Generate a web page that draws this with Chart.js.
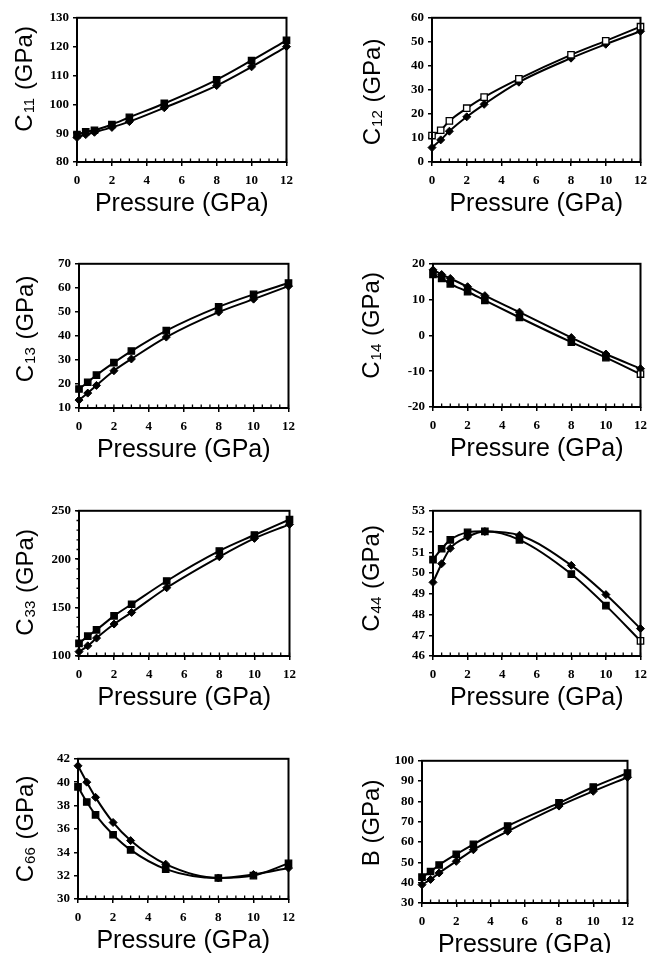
<!DOCTYPE html>
<html>
<head>
<meta charset="utf-8">
<script src="https://cdn.jsdelivr.net/npm/chart.js@4/dist/chart.umd.min.js"></script>
<style>
  html, body { margin: 0; padding: 0; background: #fff; overflow: hidden; }
  body { width: 654px; height: 953px; position: relative; }
  .panel { position: absolute; }
</style>
</head>
<body>
<script>
// pressure points (GPa), shared by every panel
var pressure = [0, 0.5, 1, 2, 3, 5, 8, 10, 12];

// squares / diamonds for each constant
var c11Sq = [89.5, 90.5, 91, 93, 95.5, 100.3, 108.5, 115.2, 122.2];
var c11Di = [88.5, 89.5, 90.3, 92, 94, 98.8, 106.5, 113, 120];

var c12Sq = [11, 13.2, 17.1, 22.4, 27, 34.6, 44.6, 50.4, 56.3];
var c12Di = [6, 9.2, 12.8, 18.8, 24, 33.2, 43.2, 49, 54.4];

var c13Sq = [17.9, 20.7, 23.7, 28.9, 33.7, 42.2, 52.1, 57.3, 62];
var c13Di = [13.3, 16.2, 19.4, 25.5, 30.4, 39.5, 49.9, 55.3, 60.7];

var c14Sq = [17, 15.9, 14.4, 12.2, 9.8, 5, -1.9, -6.2, -10.8];
var c14Di = [18.3, 17, 15.9, 13.6, 11.1, 6.5, -0.6, -5.2, -9.3];

var c33Sq = [113, 120.5, 127, 141.5, 153.5, 177.5, 208.5, 225, 241];
var c33Di = [104.5, 110.5, 118.5, 133, 145, 170.5, 202.5, 221.5, 236];

var c44Sq = [50.65, 51.17, 51.6, 51.96, 52.01, 51.6, 49.95, 48.43, 46.73];
var c44Di = [49.55, 50.45, 51.19, 51.74, 52.0, 51.82, 50.37, 48.96, 47.32];

var c66Sq = [39.6, 38.3, 37.2, 35.5, 34.2, 32.56, 31.8, 32.0, 33.05];
var c66Di = [41.4, 40.0, 38.7, 36.55, 35.0, 32.98, 31.8, 32.1, 32.65];

var bSq = [42.7, 45.5, 48.7, 54, 58.9, 67.9, 79.3, 87.1, 94];
var bDi = [39, 41.6, 44.8, 50.5, 56.2, 65.3, 77.7, 85, 91.9];

// y ranges [min, max, step]
var c11Range = [80, 130, 10];
var c12Range = [0, 60, 10];
var c13Range = [10, 70, 10];
var c14Range = [-20, 20, 10];
var c33Range = [100, 250, 50];
var c44Range = [46, 53, 1];
var c66Range = [30, 42, 2];
var bRange = [30, 100, 10];
var xRange = [0, 12, 2];

// y titles: [main letter, subscript]
var titles = [['C', '11'], ['C', '12'], ['C', '13'], ['C', '14'],
              ['C', '33'], ['C', '44'], ['C', '66'], ['B', '']];

// panel layout: plot area [left, top, right, bottom], y-title offsets
var panels = [
  {sq: c11Sq, di: c11Di, range: c11Range, t: 0, area: [77, 16, 293, 162], tx: 52, ty: -11},
  {sq: c12Sq, di: c12Di, range: c12Range, t: 1, area: [432, 16, 647, 162], tx: 59, ty: 2, openSq: true},
  {sq: c13Sq, di: c13Di, range: c13Range, t: 2, area: [79, 262, 295, 408], tx: 53, ty: -7},
  {sq: c14Sq, di: c14Di, range: c14Range, t: 3, area: [433, 262, 647, 407], tx: 61, ty: -10, openLast: true},
  {sq: c33Sq, di: c33Di, range: c33Range, t: 4, area: [79, 509, 296, 656], tx: 53, ty: -1, minorY: 10},
  {sq: c44Sq, di: c44Di, range: c44Range, t: 5, area: [433, 509, 647, 656], tx: 61, ty: -5, openLast: true},
  {sq: c66Sq, di: c66Di, range: c66Range, t: 6, area: [78, 757, 295, 899], tx: 52, ty: 0},
  {sq: bSq, di: bDi, range: bRange, t: 7, area: [422, 759, 634, 903], tx: 50, ty: -9}
];

var Y_W = 77, X_H = 60, PAD_T = 10, PAD_R = 7;

function pts(ys) {
  return pressure.map(function (p, i) { return {x: p, y: ys[i]}; });
}

// frame, inner minor ticks and y title with subscript
var decor = {
  id: 'decor',
  afterDraw: function (chart, args, opts) {
    var ctx = chart.ctx, a = chart.chartArea;
    var xs = chart.scales.x, ys = chart.scales.y;
    ctx.save();
    ctx.strokeStyle = '#000';
    ctx.lineWidth = 2;
    ctx.strokeRect(a.left, a.top, a.right - a.left, a.bottom - a.top);

    ctx.lineWidth = 1.3;
    ctx.beginPath();
    for (var v = xs.min; v <= xs.max + 1e-9; v += 0.5) {
      var px = xs.getPixelForValue(v);
      ctx.moveTo(px, a.bottom);
      ctx.lineTo(px, a.bottom - 3.5);
    }
    if (opts.minorY) {
      for (var w = ys.min; w <= ys.max + 1e-9; w += opts.minorY) {
        var py = ys.getPixelForValue(w);
        ctx.moveTo(a.left, py);
        ctx.lineTo(a.left - 2.5, py);
      }
    }
    ctx.stroke();

    // y title
    var main = opts.title[0], sub = opts.title[1];
    var bigF = '24px "Liberation Sans", "DejaVu Sans", sans-serif';
    var subF = '15px "Liberation Sans", "DejaVu Sans", sans-serif';
    var rest = ' (GPa)';
    ctx.font = bigF;
    var w1 = ctx.measureText(main).width;
    var w3 = ctx.measureText(rest).width;
    ctx.font = subF;
    var w2 = sub ? ctx.measureText(sub).width + 2 : 0;
    var total = w1 + w2 + w3;
    var cx = a.left - opts.tx;
    var cy = (a.top + a.bottom) / 2 + opts.ty;
    ctx.translate(cx, cy);
    ctx.rotate(-Math.PI / 2);
    ctx.fillStyle = '#000';
    ctx.textBaseline = 'middle';
    ctx.textAlign = 'left';
    var x0 = -total / 2;
    ctx.font = bigF;
    ctx.fillText(main, x0, 0);
    if (sub) {
      ctx.font = subF;
      ctx.fillText(sub, x0 + w1 + 1, 5);
    }
    ctx.font = bigF;
    ctx.fillText(rest, x0 + w1 + w2, 0);
    ctx.restore();
  }
};

var tickFont = {family: '"Liberation Serif", "DejaVu Serif", serif', weight: 'bold', size: 13};

panels.forEach(function (p) {
  var a = p.area;
  var left = a[0] - Y_W, top = a[1] - PAD_T;
  var width = (a[2] - a[0]) + Y_W + PAD_R;
  var height = (a[3] - a[1]) + PAD_T + X_H;

  var box = document.createElement('div');
  box.className = 'panel';
  box.style.left = left + 'px';
  box.style.top = top + 'px';
  box.style.width = width + 'px';
  box.style.height = height + 'px';
  var canvas = document.createElement('canvas');
  canvas.width = width;
  canvas.height = height;
  canvas.style.width = width + 'px';
  canvas.style.height = height + 'px';
  box.appendChild(canvas);
  document.body.appendChild(box);

  var n = pressure.length;
  var sqFill = pressure.map(function (v, i) {
    if (p.openSq) return '#fff';
    if (p.openLast && i === n - 1) return '#fff';
    return '#000';
  });

  new Chart(canvas.getContext('2d'), {
    type: 'line',
    data: {
      datasets: [
        {
          data: pts(p.sq),
          borderColor: '#000',
          borderWidth: 2,
          pointStyle: 'rect',
          pointRadius: 4.5,
          pointBorderWidth: 1.3,
          pointBorderColor: '#000',
          pointBackgroundColor: sqFill,
          cubicInterpolationMode: 'monotone',
          clip: false
        },
        {
          data: pts(p.di),
          borderColor: '#000',
          borderWidth: 2,
          pointStyle: 'rectRot',
          pointRadius: 4,
          pointBorderWidth: 1,
          pointBorderColor: '#000',
          pointBackgroundColor: '#000',
          cubicInterpolationMode: 'monotone',
          clip: false
        }
      ]
    },
    options: {
      responsive: false,
      animation: false,
      events: [],
      layout: {padding: {top: PAD_T, right: PAD_R, left: 0, bottom: 0}},
      plugins: {
        legend: {display: false},
        tooltip: {enabled: false},
        decor: {title: titles[p.t], tx: p.tx, ty: p.ty, minorY: p.minorY}
      },
      scales: {
        x: {
          type: 'linear',
          min: xRange[0], max: xRange[1],
          border: {display: false},
          grid: {drawOnChartArea: false, drawTicks: true, tickLength: 4, color: '#000', lineWidth: 1.5},
          ticks: {stepSize: xRange[2], color: '#000', font: tickFont, padding: 7, maxRotation: 0},
          title: {
            display: true,
            text: 'Pressure (GPa)',
            color: '#000',
            font: {family: '"Liberation Sans", "DejaVu Sans", sans-serif', size: 25},
            padding: {top: 0, bottom: 3}
          },
          afterFit: function (s) { s.height = X_H; }
        },
        y: {
          min: p.range[0], max: p.range[1],
          border: {display: false},
          grid: {drawOnChartArea: false, drawTicks: true, tickLength: 4, color: '#000', lineWidth: 1.5},
          ticks: {stepSize: p.range[2], color: '#000', font: tickFont, padding: 4},
          afterFit: function (s) { s.width = Y_W; }
        }
      }
    },
    plugins: [decor]
  });
});
</script>
</body>
</html>
